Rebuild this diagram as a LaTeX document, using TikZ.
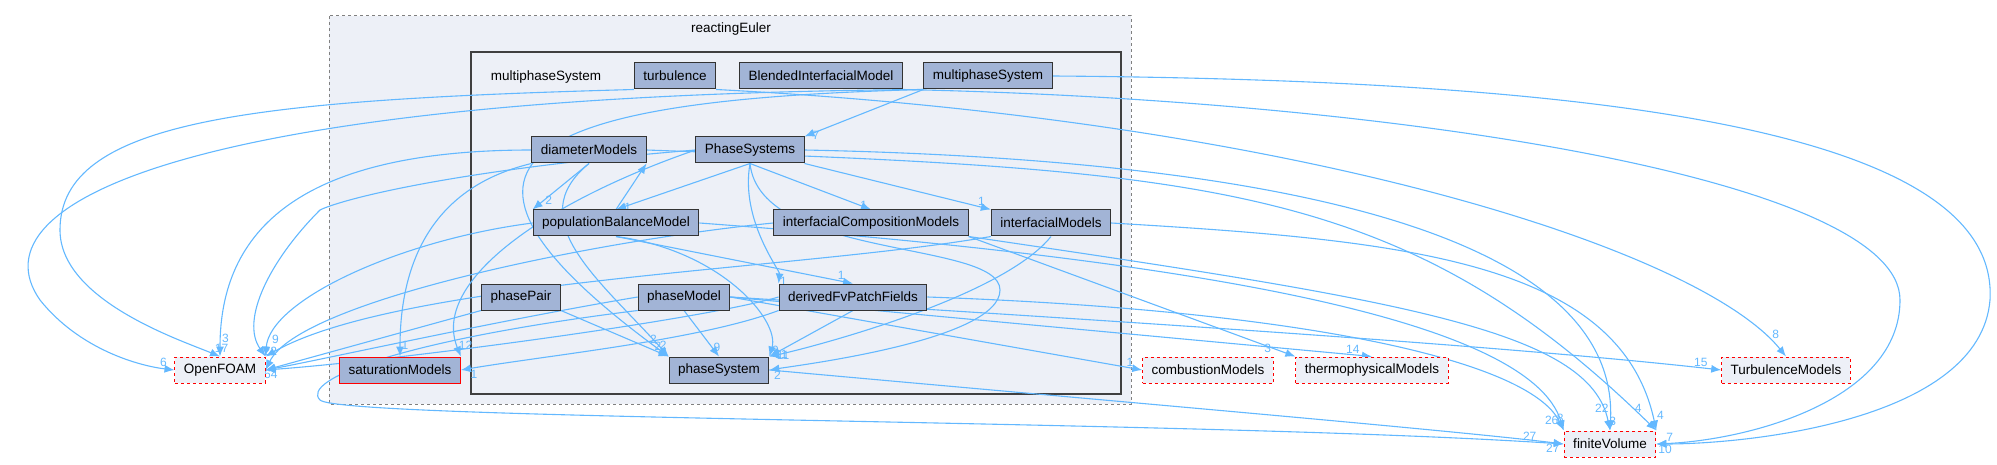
\documentclass[tikz,border=0pt]{standalone}
\usepackage{fontspec}
\setmainfont{Liberation Sans}
\usetikzlibrary{arrows.meta}
\usetikzlibrary{positioning}
\definecolor{edgeblue}{HTML}{63B8FF}
\definecolor{dirfill}{HTML}{A2B4D6}
\definecolor{clfill}{HTML}{EDF0F7}
\pgfdeclarelayer{clusters}
\pgfdeclarelayer{edges}
\pgfsetlayers{clusters,edges,main}

\begin{document}
\begin{tikzpicture}[x=1pt,y=-1pt,
    dir/.style={draw=black!80,fill=dirfill,line width=1pt,minimum height=26pt,inner xsep=9pt,font=\fontsize{13.5}{14}\selectfont},
    ext/.style={draw=red,dashed,fill=clfill,line width=1pt,minimum height=26pt,inner xsep=9pt,font=\fontsize{13.5}{14}\selectfont},
    dep/.style={edgeblue,line width=1.1pt,-{Latex[length=10pt,width=8pt]}},
    lbl/.style={text=edgeblue,font=\fontsize{12}{12}\selectfont,inner sep=1pt}]
    \useasboundingbox (0,0) rectangle (1997,465);

    % clusters
    \begin{pgfonlayer}{clusters}
    \draw[gray,dashed,fill=clfill,line width=1pt] (329,16) rectangle (1131,404);
    \draw[black!75,line width=2.2pt] (471,52) rectangle (1121,394);
    \end{pgfonlayer}
    \node (eul) at (731,29) {\fontsize{13.5}{14}\selectfont reactingEuler};
    \node (msl) at (546,77) {\fontsize{13.5}{14}\selectfont multiphaseSystem};

    % directories
    \node[dir] (turb) at (675,76) {turbulence};
    \node[dir] (blend) at (821,76) {BlendedInterfacialModel};
    \node[dir] (mps) at (988,76) {multiphaseSystem};
    \node[dir] (diam) at (589,150) {diameterModels};
    \node[dir] (psys) at (750,150) {PhaseSystems};
    \node[dir] (pbm) at (616,223) {populationBalanceModel};
    \node[dir] (icm) at (871,223) {interfacialCompositionModels};
    \node[dir] (ifm) at (1051,223) {interfacialModels};
    \node[dir] (pair) at (521,297) {phasePair};
    \node[dir] (pmod) at (684,297) {phaseModel};
    \node[dir] (dfv) at (853,297) {derivedFvPatchFields};
    \node[dir] (phs) at (719,370) {phaseSystem};
    \node[dir,draw=red] (sat) at (400,370) {saturationModels};

    \node[ext] (foam) at (220,370) {OpenFOAM};
    \node[ext] (comb) at (1208,370) {combustionModels};
    \node[ext] (thermo) at (1372,370) {thermophysicalModels};
    \node[ext] (tmod) at (1786,370) {TurbulenceModels};
    \node[ext] (fv) at (1610,444) {finiteVolume};

    \begin{pgfonlayer}{edges}
    % multiphaseSystem
    \draw[dep] (mps.south west) -- node[lbl,pos=0.97,right=3pt]{7} (psys.north east);
    \draw[dep] (mps.south west) .. controls (200,95) and (-30,200) .. (40,300) .. controls (80,350) and (140,366) .. node[lbl,pos=0.9,above]{6} (foam.west);
    \draw[dep] (mps.south west) .. controls (520,100) and (400,160) .. node[lbl,pos=0.97,right=3pt]{2} (phs.north west);
    \draw[dep] (mps.east) .. controls (1600,80) and (2000,130) .. (1990,300) .. controls (1980,420) and (1750,444) .. node[lbl,pos=0.97,below]{10} (fv.east);
    % turbulence, BlendedInterfacialModel
    \draw[dep] (turb.south west) .. controls (250,100) and (60,120) .. (60,230) .. controls (60,300) and (180,340) .. node[lbl,pos=0.95,above right]{17} (foam.north);
    \draw[dep] (turb.south east) .. controls (1300,120) and (1700,250) .. node[lbl,pos=0.95,above right]{8} (tmod.north);
    \draw[dep] (blend.south east) .. controls (1400,100) and (1900,180) .. (1900,300) .. controls (1900,400) and (1750,440) .. node[lbl,pos=0.97,above right]{7} (fv.east);
    % diameterModels
    \draw[dep] (diam.west) .. controls (300,150) and (220,230) .. node[lbl,pos=0.95,right]{3} (foam.north);
    \draw[dep] (diam.south) -- node[lbl,pos=0.8,right]{2} (pbm.north west);
    \draw[dep] (diam.south west) .. controls (420,190) and (400,280) .. node[lbl,pos=0.95,right]{1} (sat.north);
    \draw[dep] (diam.south) .. controls (520,220) and (600,280) .. node[lbl,pos=0.95,right]{2} (phs.north west);
    \draw[dep] (diam.east) .. controls (1200,170) and (1400,180) .. node[lbl,pos=0.97,right]{4} (fv.north east);
    % PhaseSystems
    \draw[dep] (psys.south) -- node[lbl,pos=0.95,right]{1} (pbm.north);
    \draw[dep] (psys.south) -- node[lbl,pos=0.9,right]{1} (icm.north);
    \draw[dep] (psys.south east) -- node[lbl,pos=0.95,above]{1} (ifm.north west);
    \draw[dep] (psys.south) .. controls (740,220) and (780,270) .. node[lbl,pos=0.95,right]{1} (dfv.north west);
    \draw[dep] (psys.south) .. controls (760,260) and (1000,240) .. (1000,290) .. controls (1000,340) and (800,365) .. node[lbl,pos=0.97,below right]{2} (phs.east);
    \draw[dep] (psys.west) .. controls (450,170) and (340,200) .. (320,210) .. controls (270,260) and (240,320) .. node[lbl,pos=0.95,right]{22} (foam.north east);
    \draw[dep] (psys.west) .. controls (550,200) and (430,280) .. node[lbl,pos=0.95,right]{12} (sat.north east);
    \draw[dep] (psys.east) .. controls (1300,160) and (1620,240) .. node[lbl,pos=0.97,above left]{22} (fv.north);
    % populationBalanceModel
    \draw[dep] (pbm.north) -- (diam.south east);
    \draw[dep] (pbm.west) .. controls (400,240) and (270,300) .. node[lbl,pos=0.9,right]{9} (foam.north east);
    \draw[dep] (pbm.south) -- node[lbl,pos=0.95,above]{1} (dfv.north);
    \draw[dep] (pbm.south) .. controls (720,250) and (780,320) .. node[lbl,pos=0.95,right]{9} (phs.north east);
    \draw[dep] (pbm.east) .. controls (1200,260) and (1530,320) .. node[lbl,pos=0.97,left]{26} (fv.north west);
    % interfacialCompositionModels
    \draw[dep] (icm.west) .. controls (600,240) and (300,300) .. (foam.east);
    \draw[dep] (icm.south east) -- node[lbl,pos=0.93,left]{3} (thermo.north west);
    \draw[dep] (icm.south east) .. controls (1400,300) and (1590,330) .. node[lbl,pos=0.97,right]{3} (fv.north);
    % interfacialModels
    \draw[dep] (ifm.south west) .. controls (800,270) and (400,280) .. (foam.north east);
    \draw[dep] (ifm.south) .. controls (1000,300) and (800,350) .. node[lbl,pos=0.95,right]{11} (phs.north east);
    \draw[dep] (ifm.east) .. controls (1400,240) and (1620,260) .. node[lbl,pos=0.97,right=3pt]{4} (fv.north east);
    % phasePair
    \draw[dep] (pair.south west) -- (foam.east);
    \draw[dep] (pair.south east) -- node[lbl,pos=0.9,above]{2} (phs.north west);
    % phaseModel
    \draw[dep] (pmod.west) .. controls (500,320) and (320,360) .. node[lbl,pos=0.97,below]{64} (foam.east);
    \draw[dep] (pmod.south) -- node[lbl,pos=0.8,right]{9} (phs.north);
    \draw[dep] (pmod.east) -- node[lbl,pos=0.97,above]{1} (comb.west);
    \draw[dep] (pmod.east) -- node[lbl,pos=0.97,above]{14} (thermo.north);
    \draw[dep] (pmod.east) .. controls (1100,320) and (1500,345) .. node[lbl,pos=0.97,above]{15} (tmod.west);
    \draw[dep] (pmod.south west) .. controls (400,340) and (300,380) .. (320,400) .. controls (340,420) and (1200,420) .. node[lbl,pos=0.97,above]{27} (fv.west);
    % derivedFvPatchFields
    \draw[dep] (dfv.south) -- node[lbl,pos=0.95,right]{11} (phs.north east);
    \draw[dep] (dfv.west) .. controls (700,320) and (400,360) .. (foam.east);
    \draw[dep] (dfv.south west) .. controls (700,340) and (550,355) .. node[lbl,pos=0.97,below right]{1} (sat.east);
    \draw[dep] (dfv.east) .. controls (1300,310) and (1530,360) .. node[lbl,pos=0.97,above]{8} (fv.north west);
    % phaseSystem
    \draw[dep] (phs.east) .. controls (1100,400) and (1450,430) .. node[lbl,pos=0.97,below]{27} (fv.west);
    \end{pgfonlayer}
\end{tikzpicture}
\end{document}
